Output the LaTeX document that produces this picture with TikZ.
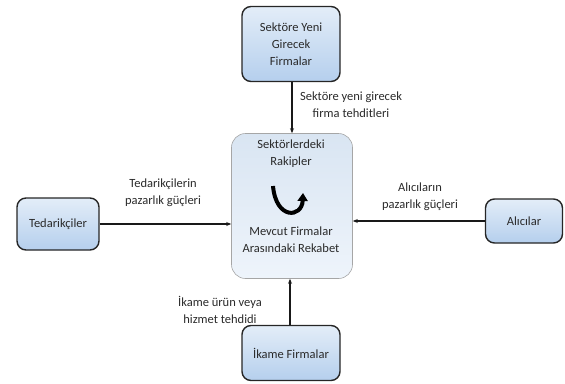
\documentclass[tikz,border=0pt]{standalone}
\usepackage{fontspec}
\setmainfont{Carlito}
\usetikzlibrary{arrows.meta}
\definecolor{txt}{HTML}{2A2A2A}
\definecolor{boxtop}{HTML}{E3EDF8}
\definecolor{boxbot}{HTML}{B5CFED}
\definecolor{ctop}{HTML}{D9E5F2}
\definecolor{cbot}{HTML}{EEF4FB}
\tikzset{
  force/.style={draw=black!85, line width=1.4pt, rounded corners=9pt,
    top color=boxtop, bottom color=boxbot, text=txt, align=center,
    font=\fontsize{12.5}{17}\selectfont, inner sep=0pt},
  rival/.style={draw=black!35, line width=0.6pt, rounded corners=14pt,
    top color=ctop, bottom color=cbot, minimum width=121pt, minimum height=145pt, inner sep=0pt},
  lbl/.style={text=txt, align=center, font=\fontsize{12.5}{17}\selectfont},
  conn/.style={draw=black!90, line width=1.2pt, -{Stealth[length=5pt,width=4pt]}}
}
\begin{document}
\begin{tikzpicture}[x=1pt,y=-1pt]
\useasboundingbox (0,0) rectangle (565,383);
\node[force, minimum width=98pt, minimum height=75pt] (top) at (291,44) {Sektöre Yeni\\Girecek\\Firmalar};
\node[rival] (mid) at (292,206) {};
\node[force, minimum width=82pt, minimum height=52pt] (left) at (58,224) {Tedarikçiler};
\node[force, minimum width=77pt, minimum height=44pt] (right) at (524,221) {Alıcılar};
\node[force, minimum width=98pt, minimum height=55pt] (bot) at (291,353) {İkame Firmalar};

\node[lbl] (t1) at (291,154) {Sektörlerdeki\\Rakipler};
\node[lbl] (t2) at (291,240) {Mevcut Firmalar\\Arasındaki Rekabet};
\coordinate (ua) at (273,186);
\coordinate (ub) at (303,193);
\draw[line width=4pt, -{Triangle[length=8pt,width=10pt]}] (ua) .. controls (276,220) and (302,218) .. (ub);

\node[lbl] (l1) at (351,105) {Sektöre yeni girecek\\firma tehditleri};
\node[lbl] (l2) at (163,193) {Tedarikçilerin\\pazarlık güçleri};
\node[lbl] (l3) at (420,197) {Alıcıların\\pazarlık güçleri};
\node[lbl] (l4) at (220,310) {İkame ürün veya\\hizmet tehdidi};

\draw[conn] (top.south -| mid.north) -- (mid.north);
\draw[conn] (left.east) -- (left.east -| mid.west);
\draw[conn] (right.west) -- (right.west -| mid.east);
\draw[conn] (bot.north -| 290,0) -- (290,0 |- mid.south);
\end{tikzpicture}
\end{document}
